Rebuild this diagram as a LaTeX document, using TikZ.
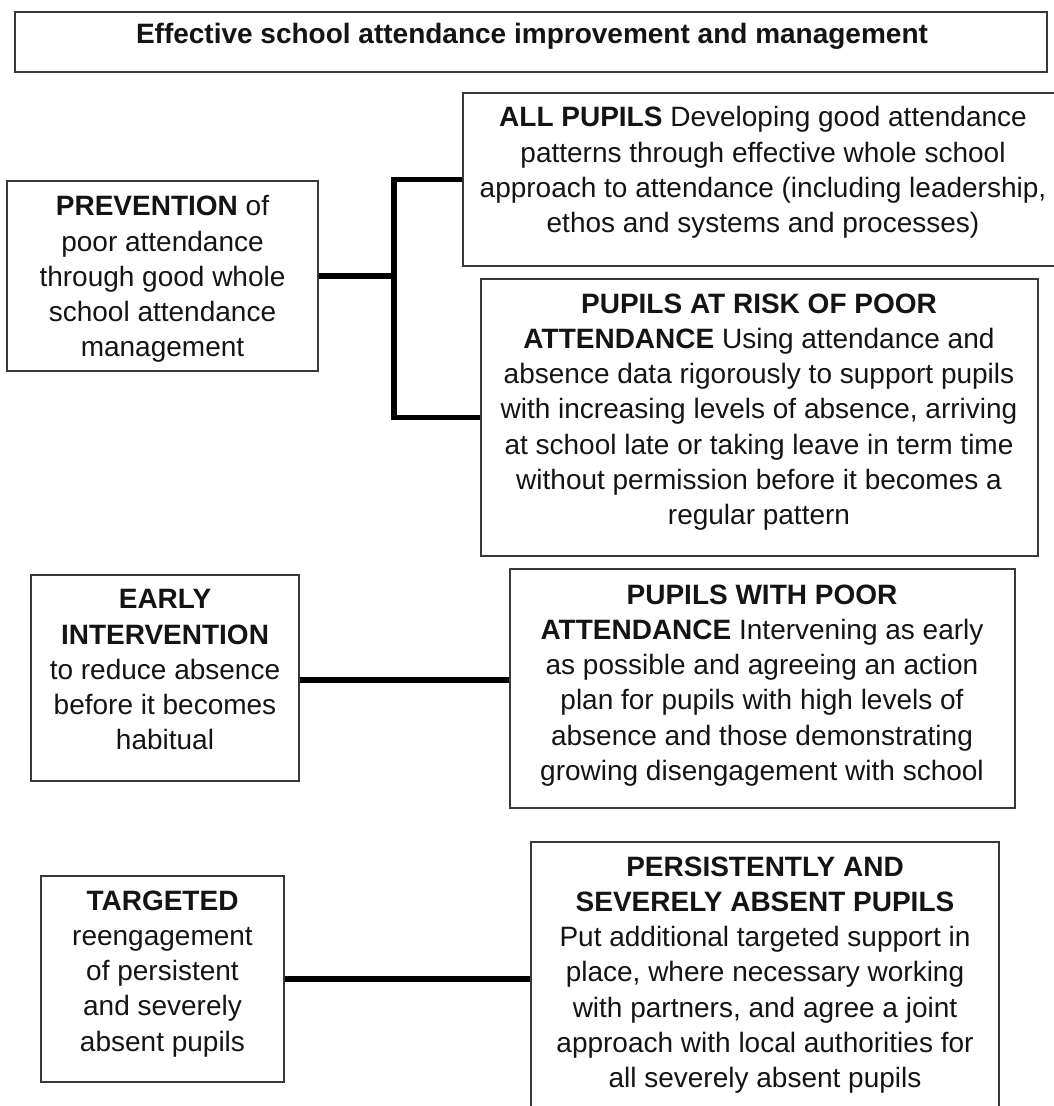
\documentclass[tikz,border=0pt]{standalone}
\usepackage{fontspec}
\setmainfont{Liberation Sans}
\begin{document}
\begin{tikzpicture}[x=1pt,y=-1pt,
  box/.style={draw=black!78,line width=1.6pt,rectangle,inner sep=0pt},
  txt/.style={anchor=north,align=center,inner sep=0pt,text=black!92,
    font=\fontsize{28}{35.2}\selectfont},
  link/.style={line width=5.5pt,black,line join=miter,line cap=butt}]
\useasboundingbox (0,0) rectangle (1053,1106);
% boxes
\node[box,minimum width=1032pt,minimum height=60pt] (title) at (531,42) {};
\node[box,minimum width=600pt,minimum height=173pt] (all) at (763,179.5) {};
\node[box,minimum width=311pt,minimum height=190pt] (prev) at (162.5,276) {};
\node[box,minimum width=557pt,minimum height=277pt] (risk) at (759.5,417.5) {};
\node[box,minimum width=268pt,minimum height=206pt] (early) at (165,678) {};
\node[box,minimum width=505pt,minimum height=239pt] (poor) at (762.5,688.5) {};
\node[box,minimum width=243pt,minimum height=206pt] (targ) at (162.5,979) {};
\node[box,minimum width=468pt,minimum height=290pt] (pers) at (765,987) {};
% texts
\node[txt] (titletxt) at (532,23) {\textbf{Effective school attendance improvement and management}};
\node[txt] (alltxt) at (763,106.5) {\textbf{ALL PUPILS} Developing good attendance\\patterns through effective whole school\\approach to attendance (including leadership,\\ethos and systems and processes)};
\node[txt] (prevtxt) at (162.5,195.5) {\textbf{PREVENTION} of\\poor attendance\\through good whole\\school attendance\\management};
\node[txt] (risktxt) at (759,293.5) {\textbf{PUPILS AT RISK OF POOR}\\\textbf{ATTENDANCE} Using attendance and\\absence data rigorously to support pupils\\with increasing levels of absence, arriving\\at school late or taking leave in term time\\without permission before it becomes a\\regular pattern};
\node[txt] (earlytxt) at (165,589.5) {\textbf{EARLY}\\\textbf{INTERVENTION}\\to reduce absence\\before it becomes\\habitual};
\node[txt] (poortxt) at (762,584.5) {\textbf{PUPILS WITH POOR}\\\textbf{ATTENDANCE} Intervening as early\\as possible and agreeing an action\\plan for pupils with high levels of\\absence and those demonstrating\\growing disengagement with school};
\node[txt] (targtxt) at (162.5,890.5) {\textbf{TARGETED}\\reengagement\\of persistent\\and severely\\absent pupils};
\node[txt] (perstxt) at (765,856.5) {\textbf{PERSISTENTLY AND}\\\textbf{SEVERELY ABSENT PUPILS}\\Put additional targeted support in\\place, where necessary working\\with partners, and agree a joint\\approach with local authorities for\\all severely absent pupils};
% connectors
\coordinate (j) at (394,276);
\draw[link] (prev.east) -- (j);
\draw[link] (all.west) -| (j) |- (risk.west);
\draw[link] (early.east |- 0,680) -- (poor.west |- 0,680);
\draw[link] (targ.east) -- (targ.east -| pers.west);
\end{tikzpicture}
\end{document}
